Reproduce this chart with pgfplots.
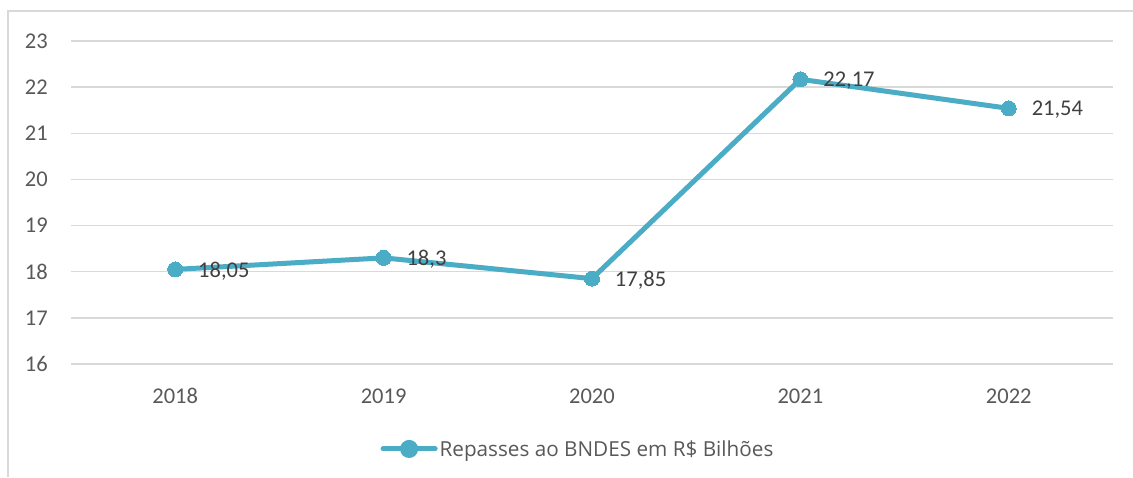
\documentclass[border=0pt]{standalone}
\usepackage{pgfplots}
\pgfplotsset{compat=1.18}
\usepackage{fontspec}
\setmainfont{Carlito}
\newfontfamily\legfont{Open Sans}
\definecolor{serie}{HTML}{4BACC6}
\definecolor{gridc}{HTML}{D9D9D9}
\definecolor{txt}{HTML}{595959}
\definecolor{lbl}{HTML}{404040}
\begin{document}
\begin{tikzpicture}[x=1pt,y=1pt]
\useasboundingbox (0,0) rectangle (1133,477);
\fill[white] (0,0) rectangle (1133,477);
\draw[gridc, line width=1.5pt] (8,0) -- (8,466) -- (1133,466);
\begin{axis}[
  at={(71pt,113pt)}, anchor=south west,
  scale only axis, width=1042pt, height=323pt,
  xmin=-0.5, xmax=4.5, ymin=16, ymax=23,
  ytick={16,17,...,23}, xtick={0,1,2,3,4},
  xticklabels={2018,2019,2020,2021,2022},
  axis line style={draw=none},
  major tick length=0pt,
  ymajorgrids, grid style={gridc, line width=1.5pt},
  /pgf/number format/assume math mode=true,
  tick label style={font=\fontsize{22.5}{27}\selectfont, text=txt},
  yticklabel style={anchor=east, inner sep=0pt, xshift=-23pt},
  xticklabel style={anchor=center, inner sep=0pt, yshift=-32pt},
  legend style={at={(axis description cs:0.4866,-0.263)}, anchor=center, draw=none, fill=none,
    font=\legfont\fontsize{20.7}{24}\selectfont, text=txt, inner sep=0pt},
  legend cell align=left,
  legend image code/.code={\draw[serie, line width=5pt, line cap=round] (0pt,0pt) -- (52pt,0pt); \fill[serie] (26pt,0pt) circle (6.5pt);},
  clip=false,
]
\addplot[serie, line width=5pt, mark=*, mark size=7.5pt, mark options={fill=serie, draw=serie, line width=0pt},
  nodes near coords={\pgfmathprintnumber[assume math mode=true,use comma,fixed,precision=2]{\pgfplotspointmeta}},
  point meta=y,
  every node near coord/.append style={anchor=west, inner sep=0pt, xshift=23pt, yshift=-1.5pt, font=\fontsize{22.5}{27}\selectfont, text=lbl}]
coordinates {(0,18.05) (1,18.3) (2,17.85) (3,22.17) (4,21.54)};
\addlegendentry{Repasses ao BNDES em R\$ Bilhões}
\end{axis}
\end{tikzpicture}
\end{document}
